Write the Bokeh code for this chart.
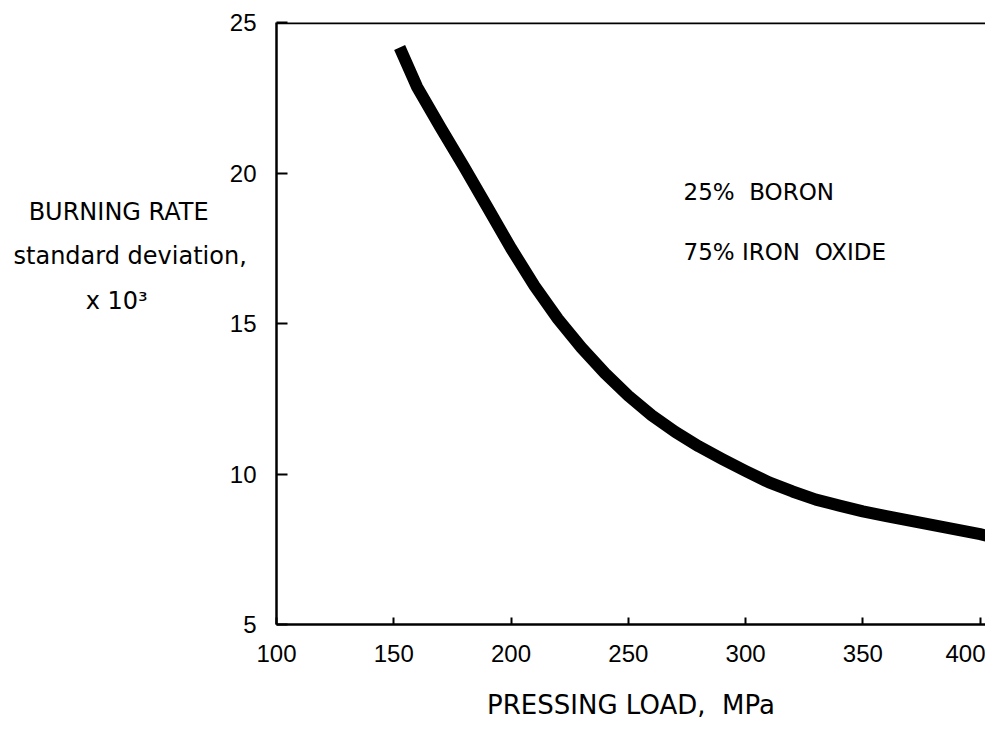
from bokeh.plotting import figure
from bokeh.models import Range1d, FixedTicker, Label, Span
from bokeh.embed import file_html
from bokeh.resources import INLINE

# Data
pressing_load = [152.5, 160, 170, 180, 190, 200, 210, 220, 230, 240, 250, 260, 270,
                 280, 290, 300, 310, 320, 330, 340, 350, 360, 370, 380, 390, 400, 406.2]
burning_rate_sd = [24.17, 22.85, 21.5, 20.2, 18.85, 17.5, 16.25, 15.15, 14.2, 13.35,
                   12.6, 11.95, 11.4, 10.92, 10.5, 10.1, 9.72, 9.42, 9.15, 8.95, 8.76,
                   8.6, 8.45, 8.3, 8.15, 8.0, 7.89]
x_ticks = [100, 150, 200, 250, 300, 350, 400]
y_ticks = [5, 10, 15, 20, 25]
NB = "\u00a0"
annotation_lines = ["25%" + NB * 2 + "BORON", "75%" + NB + "IRON" + NB * 2 + "OXIDE"]
x_title = "PRESSING" + NB + "LOAD," + NB * 2 + "MPa"
y_title_lines = ["BURNING RATE", "standard deviation,", "x 10\u00b3"]

FONT = "Liberation Sans"
TFONT = "DejaVu Sans"

p = figure(width=985, height=724, output_backend="svg", toolbar_location=None,
           x_range=Range1d(100, 402.3), y_range=Range1d(5, 25),
           min_border_left=276, min_border_right=0, min_border_top=22,
           min_border_bottom=100)
p.outline_line_color = None
p.grid.visible = False
p.background_fill_color = "white"
p.border_fill_color = "white"

for ax in (p.xaxis[0], p.yaxis[0]):
    ax.axis_line_width = 2.5
    ax.axis_line_color = "black"
    ax.major_tick_line_color = "black"
    ax.major_tick_line_width = 2
    ax.minor_tick_line_color = None
    ax.major_tick_out = 0
    ax.major_label_text_font = FONT
    ax.major_label_text_font_size = "24px"
    ax.major_label_text_color = "black"

p.xaxis[0].ticker = FixedTicker(ticks=x_ticks)
p.xaxis[0].major_tick_in = 7
p.xaxis[0].major_label_standoff = 20
p.xaxis[0].axis_label = x_title
p.xaxis[0].axis_label_text_font = TFONT
p.xaxis[0].axis_label_text_font_style = "normal"
p.xaxis[0].axis_label_text_font_size = "26px"
p.xaxis[0].axis_label_text_color = "black"
p.xaxis[0].axis_label_standoff = 25

# y title: three right-aligned lines; trailing padding shifts the short lines left,
# trailing blank lines lift the block above the frame centre
y_title = "\n".join([y_title_lines[0] + NB * 5,
                     y_title_lines[1],
                     y_title_lines[2] + NB * 13,
                     NB, NB, NB])
p.yaxis[0].ticker = FixedTicker(ticks=y_ticks)
p.yaxis[0].major_tick_in = 11
p.yaxis[0].major_label_standoff = 20
p.yaxis[0].axis_label = y_title
p.yaxis[0].axis_label_orientation = "horizontal"
p.yaxis[0].axis_label_text_font = TFONT
p.yaxis[0].axis_label_text_font_style = "normal"
p.yaxis[0].axis_label_text_font_size = "24px"
p.yaxis[0].axis_label_text_color = "black"
p.yaxis[0].axis_label_text_align = "center"
p.yaxis[0].axis_label_text_baseline = "bottom"
p.yaxis[0].axis_label_text_line_height = 1.6
p.yaxis[0].axis_label_standoff = -20

# top border
p.add_layout(Span(location=25, dimension="width", line_color="black", line_width=3.5))

p.line(pressing_load, burning_rate_sd, line_width=12, line_color="black",
       line_join="round", line_cap="butt")

# annotation text inside plot
ann_pos = [(407, 433), (407, 373)]
for t, (sx, sy) in zip(annotation_lines, ann_pos):
    p.add_layout(Label(x=sx, y=sy, x_units="screen", y_units="screen", text=t,
                       text_font=TFONT, text_font_size="23px", text_color="black",
                       text_baseline="alphabetic", text_align="left"))

open("out.html", "w").write(file_html(p, INLINE))
